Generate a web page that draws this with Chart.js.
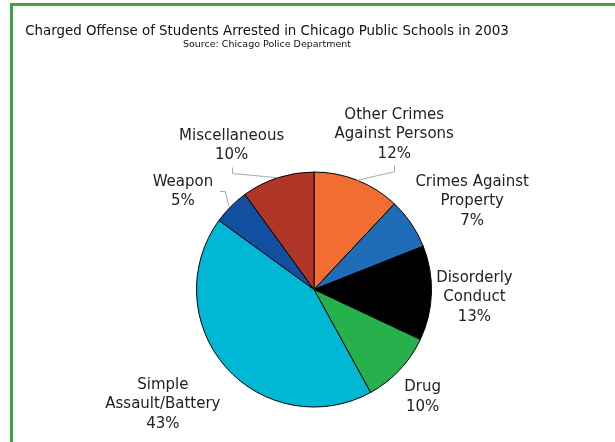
<!DOCTYPE html>
<html>
<head>
<meta charset="utf-8">
<script src="https://cdn.jsdelivr.net/npm/chart.js@4/dist/chart.umd.min.js"></script>
<style>
  html,body{margin:0;padding:0;background:#fff;}
  #wrap{position:relative;width:615px;height:442px;overflow:hidden;}
  #frame{position:absolute;left:10px;top:3px;right:-10px;bottom:-10px;border-top:3px solid #3fa33f;border-left:3px solid #3fa33f;}
  canvas{position:absolute;left:0;top:0;}
</style>
</head>
<body>
<div id="wrap">
  <div id="frame"></div>
  <canvas id="pie" width="615" height="442"></canvas>
</div>
<script>
const categories = ["Other Crimes Against Persons","Crimes Against Property","Disorderly Conduct","Drug","Simple Assault/Battery","Weapon","Miscellaneous"];
const percents = [12, 7, 13, 10, 43, 5, 10];
const colors = ["#f26e30","#1f6db6","#000000","#26b14c","#00b8d4","#124fa0","#b03628"];
// how each label breaks into lines
const labelLines = [["Other Crimes","Against Persons"],["Crimes Against","Property"],["Disorderly","Conduct"],["Drug"],["Simple","Assault/Battery"],["Weapon"],["Miscellaneous"]];
// label block centre, measured from the slice's outer mid point
const labelShift = [[37,-46],[61,-22],[43,4],[23,27],[-63,37],[-48,-15],[-46,-32]];
// leader style: "below" = elbow under the text, "side" = elbow at right of text
const leaders = ["below",null,null,null,null,"side","below"];

const LINE_H = 19.5;
const FONT = "15px 'DejaVu Sans', Verdana, sans-serif";

const labelPlugin = {
  id: "sliceLabels",
  afterDraw(chart){
    const ctx = chart.ctx;
    ctx.save();
    // titles
    ctx.fillStyle = "#111"; ctx.textAlign = "center"; ctx.textBaseline = "middle";
    ctx.font = "14.9px 'DejaVu Sans Condensed', 'DejaVu Sans', sans-serif";
    ctx.fillText("Charged Offense of Students Arrested in Chicago Public Schools in 2003", 267, 31);
    ctx.font = "9.5px 'DejaVu Sans', Verdana, sans-serif";
    ctx.fillText("Source: Chicago Police Department", 267, 45);

    const arcs = chart.getDatasetMeta(0).data;
    ctx.font = FONT;
    arcs.forEach((arc, i)=>{
      const mid = (arc.startAngle + arc.endAngle)/2;
      const ex = arc.x + Math.cos(mid)*arc.outerRadius;
      const ey = arc.y + Math.sin(mid)*arc.outerRadius;
      const lines = labelLines[i].concat([percents[i] + "%"]);
      const cx = ex + labelShift[i][0], cy = ey + labelShift[i][1];
      const top = cy - (lines.length-1)*LINE_H/2;
      ctx.fillStyle = "#222";
      lines.forEach((t,k)=>ctx.fillText(t, cx, top + k*LINE_H));
      // leader lines
      ctx.strokeStyle = "#a8a8a8"; ctx.lineWidth = 1;
      if(leaders[i] === "below"){
        const yEnd = top + (lines.length-1)*LINE_H + 12;
        ctx.beginPath();
        ctx.moveTo(Math.round(cx)+0.5, yEnd);
        ctx.lineTo(Math.round(cx)+0.5, yEnd+6);
        ctx.lineTo(ex, ey);
        ctx.stroke();
      } else if(leaders[i] === "side"){
        const w = Math.max(...lines.map(t=>ctx.measureText(t).width));
        const xs = cx + w/2 + 7, ym = Math.round(cy)+0.5;
        ctx.beginPath();
        ctx.moveTo(xs, ym);
        ctx.lineTo(xs+5, ym);
        ctx.lineTo(ex-2, ey);
        ctx.stroke();
      }
    });
    ctx.restore();
  }
};

new Chart(document.getElementById("pie"), {
  type: "pie",
  data: { labels: categories, datasets: [{ data: percents, backgroundColor: colors, borderColor: "#000", borderWidth: 1, hoverOffset: 0 }] },
  options: {
    responsive: false, animation: false, events: [],
    layout: { padding: { left: 196, right: 183, top: 171, bottom: 34 } },
    plugins: { legend: { display: false }, tooltip: { enabled: false }, title: { display: false } }
  },
  plugins: [labelPlugin]
});
</script>
</body>
</html>
